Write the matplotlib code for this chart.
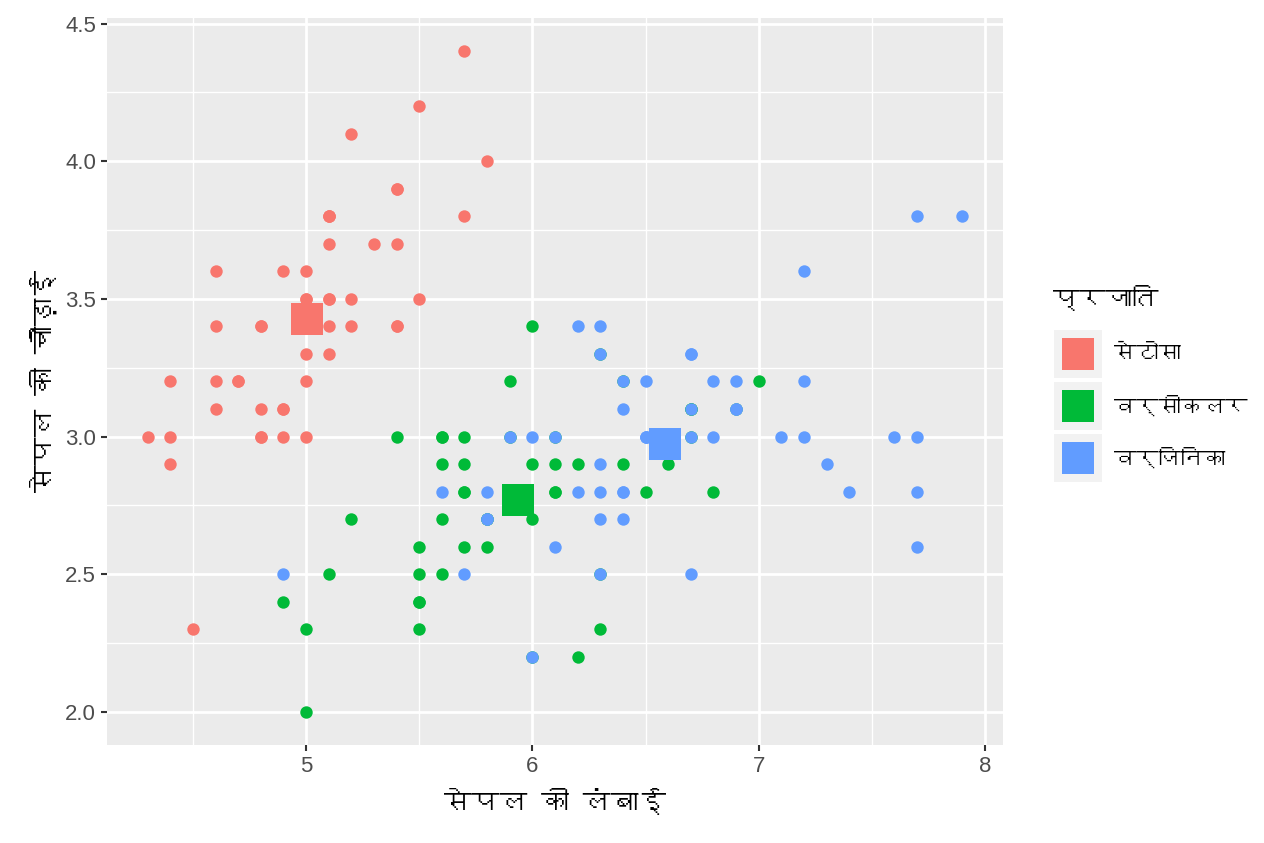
import matplotlib
matplotlib.use("Agg")
import matplotlib.pyplot as plt
from matplotlib.patches import Rectangle
from matplotlib import font_manager
from matplotlib.ft2font import FT2Font
import numpy as np

setosa_len = [5.1,4.9,4.7,4.6,5.0,5.4,4.6,5.0,4.4,4.9,5.4,4.8,4.8,4.3,5.8,5.7,5.4,5.1,5.7,5.1,
              5.4,5.1,4.6,5.1,4.8,5.0,5.0,5.2,5.2,4.7,4.8,5.4,5.2,5.5,4.9,5.0,5.5,4.9,4.4,5.1,
              5.0,4.5,4.4,5.0,5.1,4.8,5.1,4.6,5.3,5.0]
setosa_wid = [3.5,3.0,3.2,3.1,3.6,3.9,3.4,3.4,2.9,3.1,3.7,3.4,3.0,3.0,4.0,4.4,3.9,3.5,3.8,3.8,
              3.4,3.7,3.6,3.3,3.4,3.0,3.4,3.5,3.4,3.2,3.1,3.4,4.1,4.2,3.1,3.2,3.5,3.6,3.0,3.4,
              3.5,2.3,3.2,3.5,3.8,3.0,3.8,3.2,3.7,3.3]
versi_len = [7.0,6.4,6.9,5.5,6.5,5.7,6.3,4.9,6.6,5.2,5.0,5.9,6.0,6.1,5.6,6.7,5.6,5.8,6.2,5.6,
             5.9,6.1,6.3,6.1,6.4,6.6,6.8,6.7,6.0,5.7,5.5,5.5,5.8,6.0,5.4,6.0,6.7,6.3,5.6,5.5,
             5.5,6.1,5.8,5.0,5.6,5.7,5.7,6.2,5.1,5.7]
versi_wid = [3.2,3.2,3.1,2.3,2.8,2.8,3.3,2.4,2.9,2.7,2.0,3.0,2.2,2.9,2.9,3.1,3.0,2.7,2.2,2.5,
             3.2,2.8,2.5,2.8,2.9,3.0,2.8,3.0,2.9,2.6,2.4,2.4,2.7,2.7,3.0,3.4,3.1,2.3,3.0,2.5,
             2.6,3.0,2.6,2.3,2.7,3.0,2.9,2.9,2.5,2.8]
virg_len = [6.3,5.8,7.1,6.3,6.5,7.6,4.9,7.3,6.7,7.2,6.5,6.4,6.8,5.7,5.8,6.4,6.5,7.7,7.7,6.0,
            6.9,5.6,7.7,6.3,6.7,7.2,6.2,6.1,6.4,7.2,7.4,7.9,6.4,6.3,6.1,7.7,6.3,6.4,6.0,6.9,
            6.7,6.9,5.8,6.8,6.7,6.7,6.3,6.5,6.2,5.9]
virg_wid = [3.3,2.7,3.0,2.9,3.0,3.0,2.5,2.9,2.5,3.6,3.2,2.7,3.0,2.5,2.8,3.2,3.0,3.8,2.6,2.2,
            3.2,2.8,2.8,2.7,3.3,3.2,2.8,3.0,2.8,3.0,2.8,3.8,2.8,2.8,2.6,3.0,3.4,3.1,3.0,3.1,
            3.1,3.1,2.7,3.2,3.3,3.0,2.5,3.0,3.4,3.0]

species = ["सेटोसा", "वर्सीकलर", "वर्जिनिका"]
colors = ["#F8766D", "#00BA38", "#619CFF"]
x_ticks = [5, 6, 7, 8]
y_ticks = [2.0, 2.5, 3.0, 3.5, 4.0, 4.5]

# look for a font that can draw Devanagari
deva = None
for f in font_manager.fontManager.ttflist:
    try:
        if FT2Font(f.fname).get_char_index(ord("प")):
            deva = f.name
            break
    except Exception:
        pass
fam = [deva, "DejaVu Sans"] if deva else ["DejaVu Sans"]

fig = plt.figure(figsize=(12.64, 8.43), dpi=100)
ax = fig.add_axes([107/1264, 1-745/843, (1003-107)/1264, (745-18)/843])
ax.set_facecolor("#EBEBEB")
for s in ax.spines.values():
    s.set_visible(False)

groups = [(setosa_len, setosa_wid), (versi_len, versi_wid), (virg_len, virg_wid)]
for (xs, ys), c in zip(groups, colors):
    ax.scatter(xs, ys, s=80, color=c, linewidths=0, zorder=3)
for (xs, ys), c in zip(groups, colors):
    ax.plot(np.mean(xs), np.mean(ys), marker="s", markersize=23, color=c,
            markeredgewidth=0, zorder=4)

ax.set_xlim(4.12, 8.08)
ax.set_ylim(1.88, 4.52)
ax.set_xticks(x_ticks)
ax.set_yticks(y_ticks)
ax.set_xticks([4.5, 5.5, 6.5, 7.5], minor=True)
ax.set_yticks([2.25, 2.75, 3.25, 3.75, 4.25], minor=True)
ax.set_xticklabels([str(v) for v in x_ticks])
ax.set_yticklabels(["%.1f" % v for v in y_ticks])
ax.grid(which="major", color="white", linewidth=2.0, zorder=0)
ax.grid(which="minor", color="white", linewidth=1.0, zorder=0)
ax.set_axisbelow(True)
ax.tick_params(which="major", length=4, width=1.5, color="#333333",
               labelsize=16, labelcolor="#4D4D4D", pad=4)
ax.tick_params(which="minor", length=0)
for lab in ax.get_xticklabels() + ax.get_yticklabels():
    lab.set_family(["Liberation Sans", "DejaVu Sans"])

ax.set_xlabel("सेपल की लंबाई", family=fam, fontsize=20, labelpad=8)
ax.set_ylabel("सेपल की चौड़ाई", family=fam, fontsize=20, labelpad=6)

# legend drawn by hand to mimic ggplot keys
fig.text(1053/1264, 1-298/843, "प्रजाति", family=fam, fontsize=19, va="center", ha="left")
key_tops = [330, 382, 434]
for top, c, name in zip(key_tops, colors, species):
    fig.add_artist(Rectangle((1054/1264, 1-(top+48)/843), 48/1264, 48/843,
                             transform=fig.transFigure, facecolor="#F2F2F2", edgecolor="none"))
    fig.add_artist(Rectangle((1062/1264, 1-(top+40)/843), 32/1264, 32/843,
                             transform=fig.transFigure, facecolor=c, edgecolor="none"))
    fig.text(1114/1264, 1-(top+24)/843, name, family=fam, fontsize=16, va="center", ha="left")

fig.savefig("out.png", dpi=100)
